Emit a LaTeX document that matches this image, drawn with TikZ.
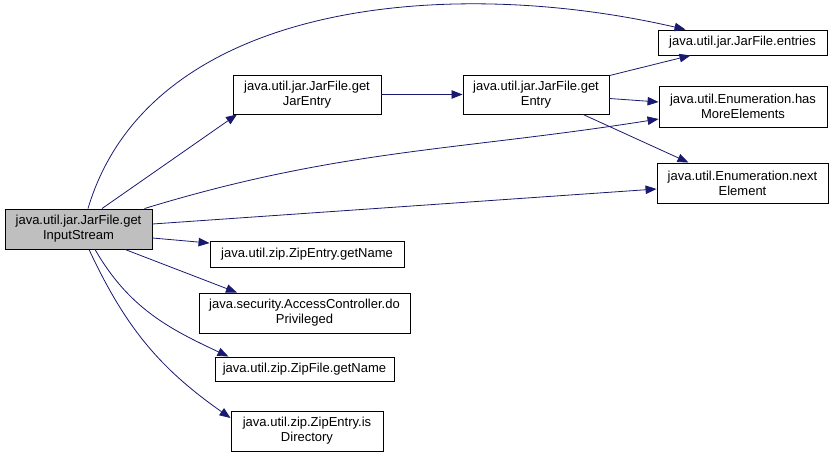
\documentclass[tikz,border=0pt]{standalone}
\usepackage{fontspec}
\setmainfont{Liberation Sans}
\usetikzlibrary{arrows.meta}
\definecolor{azulllamada}{RGB}{25,25,112}
\definecolor{grisactual}{RGB}{191,191,191}

\begin{document}
\begin{tikzpicture}[x=1pt, y=-1pt,
  metodo/.style={draw=black, fill=white, line width=0.9pt, inner sep=0pt,
    align=center, font=\fontsize{13}{15}\selectfont},
  llamada/.style={-{Triangle[length=11pt, width=8.5pt]}, line width=0.8pt,
    azulllamada},
]
  \useasboundingbox (0,0) rectangle (833,457);
  % Funcion que llama
  \node[metodo, fill=grisactual, minimum width=147pt, minimum height=40pt]
    (getinput) at (78.5,229) {java.util.jar.JarFile.get\\InputStream};
  % Segundo nivel
  \node[metodo, minimum width=148pt, minimum height=39pt] (getjar) at (307,94.5)
    {java.util.jar.JarFile.get\\JarEntry};
  \node[metodo, minimum width=194pt, minimum height=26pt] (zipname) at (307,254.5)
    {java.util.zip.ZipEntry.getName};
  \node[metodo, minimum width=211pt, minimum height=40pt] (doprivileged) at (304.5,313)
    {java.security.AccessController.do\\Privileged};
  \node[metodo, minimum width=179pt, minimum height=24pt] (zipfilename) at (304.5,369)
    {java.util.zip.ZipFile.getName};
  \node[metodo, minimum width=152pt, minimum height=40pt] (isdir) at (307,431)
    {java.util.zip.ZipEntry.is\\Directory};
  % Tercer nivel
  \node[metodo, minimum width=146pt, minimum height=39pt] (getentry) at (536,94.5)
    {java.util.jar.JarFile.get\\Entry};
  % Cuarto nivel
  \node[metodo, minimum width=169pt, minimum height=25pt] (entries) at (742.5,42.5)
    {java.util.jar.JarFile.entries};
  \node[metodo, minimum width=168pt, minimum height=41pt] (hasmore) at (743,106.5)
    {java.util.Enumeration.has\\MoreElements};
  \node[metodo, minimum width=171pt, minimum height=40pt] (nextelem) at (742.5,183)
    {java.util.Enumeration.next\\Element};
  % Llamadas
  \draw[llamada] ([xshift=9.5pt]getinput.north) .. controls (150,0) and (450,-25)
    .. ([xshift=-57pt]entries.north);
  \draw[llamada] ([xshift=23.5pt]getinput.north) -- ([xshift=-70pt]getjar.south);
  \draw[llamada] ([xshift=66pt]getinput.north) to[out=17, in=189]
    ([yshift=-12.5pt]hasmore.west);
  \draw[llamada] ([yshift=5pt]getinput.east) -- ([yshift=-6pt]nextelem.west);
  \draw[llamada] ([yshift=-9pt]getinput.east) -- ([yshift=-2pt]zipname.north west);
  \draw[llamada] ([xshift=46.5pt]getinput.south) -- ([xshift=-67.5pt]doprivileged.north);
  \draw[llamada] ([xshift=16.5pt]getinput.south) to[out=-60, in=155]
    ([xshift=-76pt]zipfilename.north);
  \draw[llamada] ([xshift=10.5pt]getinput.south) to[out=-65, in=145]
    ([yshift=13pt]isdir.west);
  \draw[llamada] (getjar.east) -- (getentry.west);
  \draw[llamada] ([yshift=-1pt]getentry.north east) -- ([xshift=-52pt]entries.south);
  \draw[llamada] ([yshift=-4pt]getentry.east) -- ([yshift=4.5pt]hasmore.west);
  \draw[llamada] ([xshift=47pt]getentry.south) -- ([xshift=-54pt]nextelem.north);
\end{tikzpicture}
\end{document}
